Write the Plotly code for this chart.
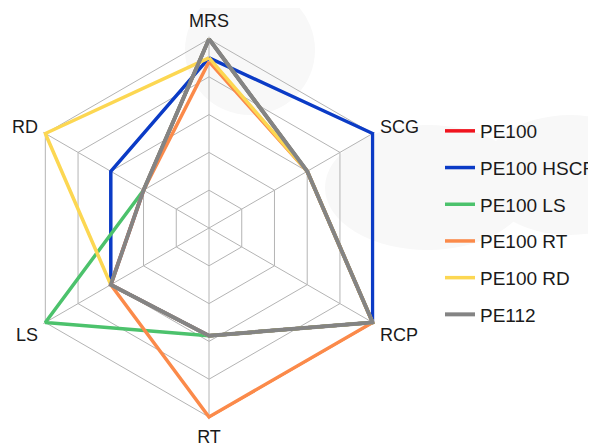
import plotly.graph_objects as go

# Axes of the radar, clockwise from the top
categories = ["MRS", "SCG", "RCP", "RT", "LS", "RD"]

# Values per material (scale 0 - 5)
pe100 = [5, 3, 5, 2.85, 3, 2]
pe100_hscr = [4.5, 5, 5, 2.85, 3, 3]
pe100_ls = [5, 3, 5, 2.85, 5, 2]
pe100_rt = [4.4, 3, 5, 5, 3, 2]
pe100_rd = [4.5, 3, 5, 2.85, 3, 5]
pe112 = [5, 3, 5, 2.85, 3, 2]

series_names = ["PE100", "PE100 HSCR", "PE100 LS", "PE100 RT", "PE100 RD", "PE112"]
series_values = [pe100, pe100_hscr, pe100_ls, pe100_rt, pe100_rd, pe112]
series_colors = ["#f0141e", "#0b3bc6", "#4cc26c", "#fb8a4a", "#fcd752", "#848484"]

W, H = 596, 443
OFF = 8  # page body margin shifts the figure by 8px


def px(x):
    return (x - OFF) / W


def py(y):
    return 1 - (y - OFF) / H


fig = go.Figure()

for name, vals, col in zip(series_names, series_values, series_colors):
    fig.add_trace(go.Scatterpolar(
        r=vals + vals[:1],
        theta=categories + categories[:1],
        mode="lines",
        name=name,
        legendgroup=name,
        line=dict(color=col, width=3.5 if name != "PE112" else 4),
        hoverinfo="skip"
    ))

# faint background blobs (watermark in the original)
blob = "#f8f8f8"
fig.add_shape(type="circle", xref="paper", yref="paper",
              x0=px(185), x1=px(315), y0=py(115), y1=py(-15),
              fillcolor=blob, line_width=0, layer="below")
fig.add_shape(type="circle", xref="paper", yref="paper",
              x0=px(325), x1=px(530), y0=py(250), y1=py(125),
              fillcolor=blob, line_width=0, layer="below")
fig.add_shape(type="circle", xref="paper", yref="paper",
              x0=px(480), x1=px(660), y0=py(235), y1=py(115),
              fillcolor=blob, line_width=0, layer="below")

grid_color = "#b4b4b4"
r_max = 5.06
cx, cy, rad = 209, 228, 189 * 5.06 / 5

fig.update_layout(
    width=W,
    height=H,
    margin=dict(l=0, r=0, t=0, b=0),
    paper_bgcolor="white",
    plot_bgcolor="white",
    font=dict(family="Liberation Sans, Arial, sans-serif", size=18, color="#1a1a1a"),
    polar=dict(
        domain=dict(x=[px(cx - rad), px(cx + rad)],
                    y=[py(cy + rad), py(cy - rad)]),
        bgcolor="rgba(0,0,0,0)",
        gridshape="linear",
        radialaxis=dict(
            range=[0, r_max],
            tickvals=[1, 2, 3, 4, 5],
            showticklabels=False,
            ticks="",
            showline=False,
            gridcolor=grid_color,
            gridwidth=1,
        ),
        angularaxis=dict(
            rotation=90,
            direction="clockwise",
            # invisible ticks just push the labels a little outward
            ticks="outside",
            ticklen=2,
            tickcolor="rgba(0,0,0,0)",
            showline=False,
            gridcolor=grid_color,
            gridwidth=1,
            tickfont=dict(size=18, color="#1a1a1a"),
        ),
    ),
    showlegend=True,
    legend=dict(
        x=432 / W,
        y=1 - 104 / H,
        xanchor="left",
        yanchor="top",
        tracegroupgap=9,
        bgcolor="rgba(0,0,0,0)",
        font=dict(size=19, color="#1a1a1a"),
    ),
)

fig.write_html("out.html")
